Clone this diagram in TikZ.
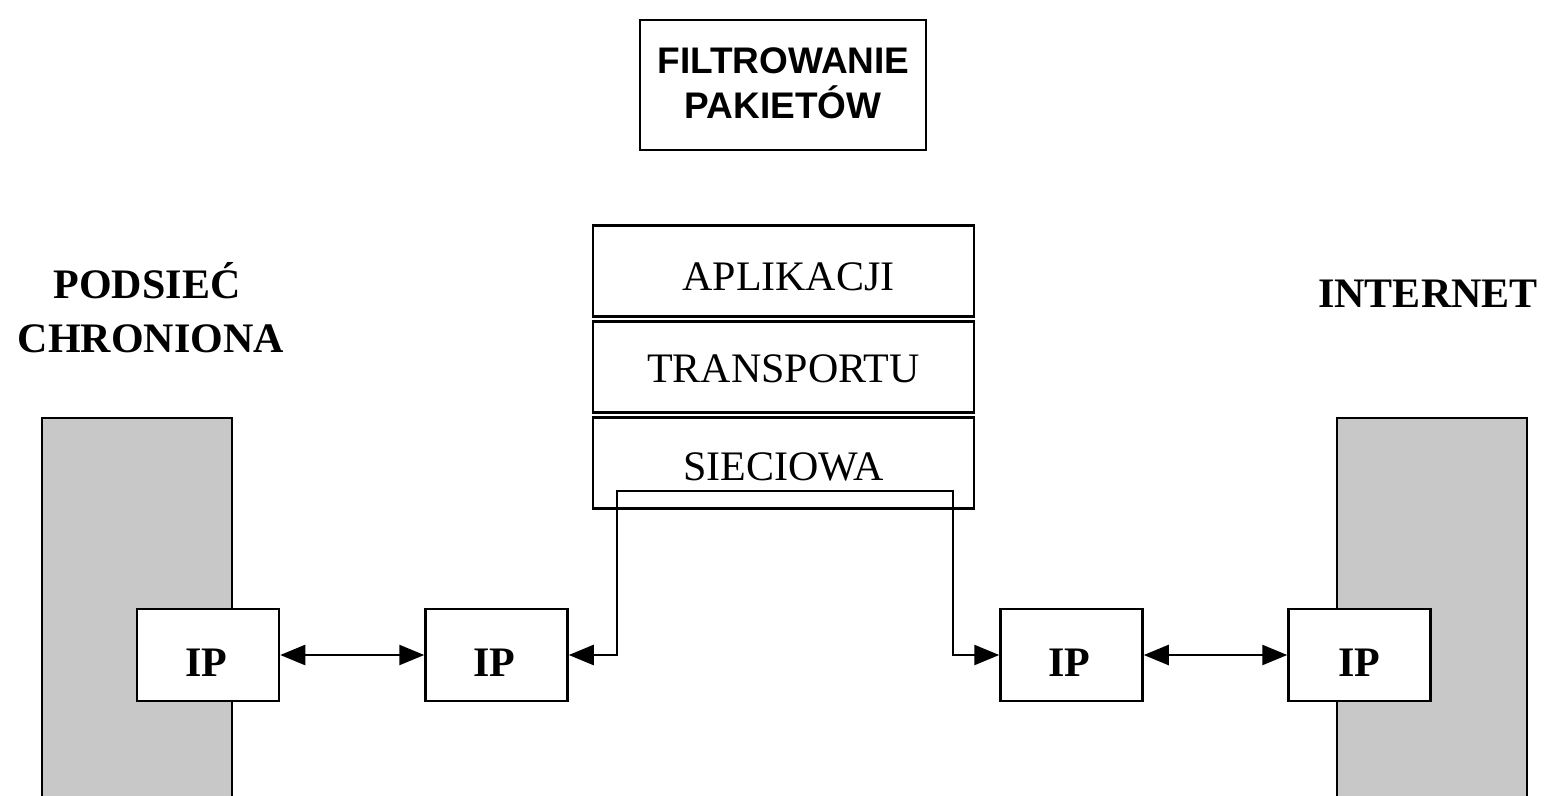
\documentclass[tikz,border=0pt]{standalone}
\usepackage{fontspec}
\setmainfont{Liberation Serif}
\newfontfamily\headfont{Liberation Sans}
\usetikzlibrary{arrows.meta}
\definecolor{netgray}{HTML}{C8C8C8}
\tikzset{
  frame/.style={draw=black, line width=2.5pt, fill=white, inner sep=0pt},
  netarea/.style={draw=black, line width=2.5pt, fill=netgray},
  layerbox/.style={frame, minimum width=381pt, minimum height=91pt},
  ipbox/.style={frame, minimum width=142pt, minimum height=92pt},
  bigbold/.style={font=\fontsize{42}{50}\selectfont\bfseries, inner sep=0pt, anchor=base},
  layertext/.style={font=\fontsize{42}{50}\selectfont, inner sep=0pt, anchor=base},
  link/.style={line width=2.5pt, {Triangle[length=25pt,width=20pt]}-{Triangle[length=25pt,width=20pt]}},
}
\begin{document}
\begin{tikzpicture}[x=1pt, y=-1pt]
\useasboundingbox (0,0) rectangle (1544,795);
\clip (0,0) rectangle (1544,795);

% title box
\node[frame, minimum width=286pt, minimum height=130pt] (filt) at (783,85) {};
\node[inner sep=0pt, anchor=base, font=\headfont\bfseries\fontsize{37}{45}\selectfont] (filt1) at (783.5,73) {FILTROWANIE};
\node[inner sep=0pt, anchor=base, font=\headfont\bfseries\fontsize{37}{45}\selectfont] (filt2) at (783,118) {PAKIETÓW};

% network areas
\path[netarea] (42,418) rectangle (232,820);
\path[netarea] (1337,418) rectangle (1527,820);
\node[bigbold] (lbl1) at (147,298) {PODSIEĆ};
\node[bigbold] (lbl2) at (151,352) {CHRONIONA};
\node[bigbold] (lbl3) at (1428,307) {INTERNET};

% protocol stack
\node[layerbox] (apl) at (783.5,271) {};
\node[layerbox] (tra) at (783.5,367) {};
\node[layerbox] (sie) at (783.5,463) {};
\node[layertext] (aplt) at (788.5,290) {APLIKACJI};
\node[layertext] (trat) at (783.5,382) {TRANSPORTU};
\node[layertext] (siet) at (783.5,480) {SIECIOWA};

% IP boxes
\node[ipbox] (ip1) at (208,655) {};
\node[ipbox] (ip2) at (496.5,655) {};
\node[ipbox] (ip3) at (1071.5,655) {};
\node[ipbox] (ip4) at (1359.5,655) {};
\node[bigbold] (ip1t) at (206,676) {IP};
\node[bigbold] (ip2t) at (494,676) {IP};
\node[bigbold] (ip3t) at (1069,676) {IP};
\node[bigbold] (ip4t) at (1359,676) {IP};

% connections
\coordinate (cl) at (617,491);
\coordinate (cr) at (953,491);
\draw[link] (ip1.east) -- (ip2.west);
\draw[link] (ip3.east) -- (ip4.west);
\draw[link, line join=miter] (ip2.east) -| (cl) -- (cr) |- (ip3.west);
\end{tikzpicture}
\end{document}
